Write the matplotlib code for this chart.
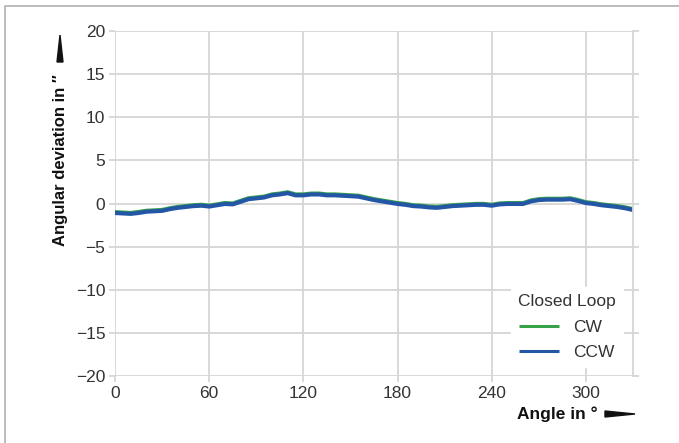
import numpy as np
import matplotlib
matplotlib.use("Agg")
import matplotlib.pyplot as plt
from matplotlib.lines import Line2D
from matplotlib.patches import Polygon

plt.rcParams["font.family"] = ["Liberation Sans", "DejaVu Sans"]

# angle in degrees
angle = [0, 5, 10, 15, 20, 25, 30, 35, 40, 45, 50, 55, 60, 65, 70, 75, 80, 85,
         90, 95, 100, 105, 110, 115, 120, 125, 130, 135, 140, 145, 150, 155,
         160, 165, 170, 175, 180, 185, 190, 195, 200, 205, 210, 215, 220, 225,
         230, 235, 240, 245, 250, 255, 260, 265, 270, 275, 280, 285, 290, 295,
         300, 305, 310, 315, 320, 325, 330]

ccw = [-1.10, -1.15, -1.20, -1.10, -0.95, -0.90, -0.85, -0.65, -0.50, -0.40,
       -0.30, -0.25, -0.35, -0.20, -0.05, -0.10, 0.20, 0.50, 0.60, 0.70,
       0.95, 1.05, 1.20, 0.95, 0.95, 1.05, 1.05, 0.95, 0.95, 0.90, 0.85,
       0.80, 0.60, 0.40, 0.25, 0.10, -0.05, -0.15, -0.30, -0.35, -0.45,
       -0.50, -0.40, -0.30, -0.25, -0.20, -0.15, -0.15, -0.25, -0.10, -0.05,
       -0.05, -0.05, 0.25, 0.40, 0.45, 0.45, 0.45, 0.50, 0.30, 0.05, -0.05,
       -0.20, -0.30, -0.40, -0.55, -0.75]

cw = [-1.00, -1.05, -1.10, -0.98, -0.85, -0.80, -0.75, -0.55, -0.40, -0.30,
      -0.20, -0.15, -0.25, -0.10, 0.05, 0.00, 0.30, 0.60, 0.70, 0.80,
      1.05, 1.15, 1.30, 1.05, 1.05, 1.15, 1.15, 1.05, 1.05, 1.00, 0.95,
      0.90, 0.70, 0.50, 0.35, 0.20, 0.05, -0.05, -0.20, -0.25, -0.35,
      -0.40, -0.30, -0.20, -0.15, -0.10, -0.05, -0.05, -0.15, 0.00, 0.05,
      0.05, 0.05, 0.35, 0.50, 0.55, 0.55, 0.55, 0.60, 0.40, 0.15, 0.05,
      -0.10, -0.20, -0.30, -0.45, -0.65]

x_ticks = [0, 60, 120, 180, 240, 300]
y_ticks = [-20, -15, -10, -5, 0, 5, 10, 15, 20]

green = "#35a24a"
blue = "#2456a6"
grid_c = "#d6d6d6"
text_c = "#333333"

fig = plt.figure(figsize=(6.79, 4.43), dpi=100)
W, H = 679, 443
ax = fig.add_axes([115 / W, 1 - 376 / H, (633 - 115) / W, (376 - 31) / H])

ax.plot(angle, cw, color=green, lw=3, solid_capstyle="butt", label="CW")
ax.plot(angle, ccw, color=blue, lw=3, solid_capstyle="butt", label="CCW")

ax.set_xlim(0, 330)
ax.set_ylim(-20, 20)
ax.set_xticks(x_ticks)
ax.set_yticks(y_ticks)
ax.set_yticklabels([str(v).replace("-", "\u2212") for v in y_ticks])
ax.grid(True, color=grid_c, lw=1.3)
ax.set_axisbelow(True)
for s in ["top", "bottom", "left"]:
    ax.spines[s].set_visible(False)
ax.spines["right"].set_color(grid_c)
ax.spines["right"].set_linewidth(1.3)
ax.tick_params(axis="both", colors=grid_c, labelcolor=text_c, labelsize=12.5,
               length=4, width=1.3, pad=3)
ax.tick_params(axis="y", right=True)

leg = ax.legend(title="Closed Loop", loc="lower right", frameon=True,
                fontsize=12.5, title_fontsize=12.5, handlelength=2.3,
                labelspacing=0.6, borderaxespad=0.3,
                bbox_to_anchor=(0.99, 0.01))
leg.get_frame().set_edgecolor("white")
leg.get_frame().set_facecolor("white")
leg.get_frame().set_alpha(1)
leg.get_title().set_color(text_c)
for t in leg.get_texts():
    t.set_color(text_c)
for h in leg.get_lines():
    h.set_linewidth(2.2)

# axis labels with arrows
fig.text(598 / W, 1 - 414 / H, "Angle in \u00b0", ha="right", va="center",
         fontsize=12.5, fontweight="bold", color="#111111")
fig.patches.append(Polygon([[605 / W, 1 - 411 / H], [635 / W, 1 - 414 / H],
                            [605 / W, 1 - 417 / H]], closed=True,
                           transform=fig.transFigure, color="#111111"))
fig.text(60 / W, 1 - 246 / H, "Angular deviation in \u2033", ha="center",
         va="bottom", rotation=90, fontsize=12, fontweight="bold",
         color="#111111")
fig.patches.append(Polygon([[57 / W, 1 - 62 / H], [60 / W, 1 - 35 / H],
                            [63 / W, 1 - 62 / H]], closed=True,
                           transform=fig.transFigure, color="#111111"))

# figure frame (top and left)
fig.lines.append(Line2D([5 / W, 5 / W, 1], [0, 1 - 6 / H, 1 - 6 / H],
                        transform=fig.transFigure, color="#b0b0b0", lw=1.2))

fig.savefig("out.png", dpi=100)
